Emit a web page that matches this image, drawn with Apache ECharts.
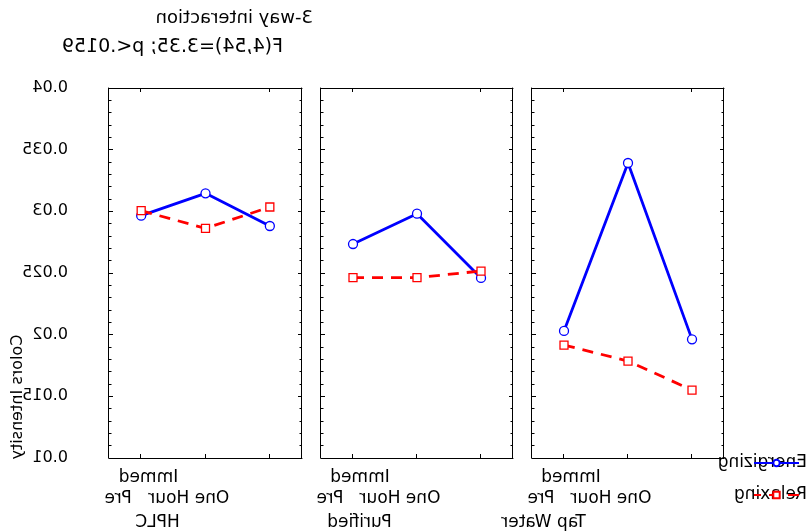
<!DOCTYPE html>
<html>
<head>
<meta charset="utf-8">
<script src="https://cdn.jsdelivr.net/npm/echarts@6/dist/echarts.min.js"></script>
<style>
html,body{margin:0;padding:0;background:#fff;}
#main{width:812px;height:532px;transform:scaleX(-1);transform-origin:center;}
</style>
</head>
<body>
<div id="main"></div>
<script>
// ---- data ----
const panels = ['HPLC', 'Purified', 'Tap Water'];
const timepoints = ['Pre', 'Immed', 'One Hour'];
const seriesNames = ['Energizing', 'Relaxing'];
const energizingHPLC = [0.02965, 0.03146, 0.02881];
const relaxingHPLC = [0.03005, 0.02862, 0.03035];
const energizingPurified = [0.02735, 0.02981, 0.02460];
const relaxingPurified = [0.02462, 0.02462, 0.02516];
const energizingTap = [0.02030, 0.03392, 0.01962];
const relaxingTap = [0.01916, 0.01786, 0.01551];
const titleText = '3-way interaction';
const subtitleText = 'F(4,54)=3.35; p<.0159';
const yAxisName = 'Colors Intensity';

// ---- layout / style ----
const FONT = 'DejaVu Sans';
const energizingByPanel = [energizingHPLC, energizingPurified, energizingTap];
const relaxingByPanel = [relaxingHPLC, relaxingPurified, relaxingTap];
// the whole canvas is mirrored horizontally (CSS) to match the reference
const gridLefts = [510, 299, 88];
const gridWidths = [193, 192, 192];
const groupPad = [96, 115, 169];

const chart = echarts.init(document.getElementById('main'), null, {renderer: 'canvas'});

const grids = [], xAxes = [], yAxes = [], series = [];
const labelKey = {'Pre': 'p', 'Immed': 'i', 'One Hour': 'o'};
const txt = {fontFamily: FONT, fontSize: 17, color: '#000'};

panels.forEach((p, i) => {
  grids.push({left: gridLefts[i], width: gridWidths[i], top: 88, height: 370, containLabel: false, outerBoundsMode: 'none'});
  const tick = {show: true, inside: true, alignWithLabel: true, length: 4, lineStyle: {color: '#000', width: 1}};
  const line = {show: true, onZero: false, lineStyle: {color: '#000', width: 1}};
  xAxes.push({
    type: 'category', gridIndex: i, position: 'bottom', data: timepoints, inverse: true, boundaryGap: true,
    axisLine: line, axisTick: tick, splitLine: {show: false},
    axisLabel: {
      interval: 0, margin: 11, ...txt,
      formatter: v => '{' + labelKey[v] + '|' + v + '}',
      rich: {
        p: {...txt, padding: [21, 0, 0, 46]},
        i: {...txt, padding: [0, 0, 0, 114]},
        o: {...txt, padding: [21, 0, 0, 162]}
      }
    },
    name: p, nameLocation: 'middle', nameGap: 56,
    nameTextStyle: {...txt, padding: [0, 0, 0, groupPad[i]]}
  });
  xAxes.push({
    type: 'category', gridIndex: i, position: 'top', data: timepoints, inverse: true, boundaryGap: true,
    axisLine: line, axisTick: tick, axisLabel: {show: false}, splitLine: {show: false}
  });
  ['left', 'right'].forEach(pos => {
    const showLabel = (i === 0 && pos === 'right');
    yAxes.push({
      type: 'value', gridIndex: i, position: pos, min: 0.01, max: 0.04, interval: 0.005,
      axisLine: {show: true, lineStyle: {color: '#000', width: 1}},
      axisTick: {show: true, inside: true, length: 4, lineStyle: {color: '#000', width: 1}},
      minorTick: {show: true, splitNumber: 5, length: 2.5, lineStyle: {color: '#000', width: 1}},
      splitLine: {show: false}, minorSplitLine: {show: false},
      axisLabel: {show: showLabel, margin: 41, fontFamily: FONT, fontSize: 16, color: '#000'}
    });
  });
  series.push({
    name: seriesNames[0], type: 'line', xAxisIndex: 2 * i, yAxisIndex: 2 * i,
    data: energizingByPanel[i], symbol: 'circle', symbolSize: 9,
    lineStyle: {color: '#0000ff', width: 2.8, type: 'solid'},
    itemStyle: {color: '#ffffff', borderColor: '#0000ff', borderWidth: 1.3},
    z: 2
  });
  series.push({
    name: seriesNames[1], type: 'line', xAxisIndex: 2 * i, yAxisIndex: 2 * i,
    data: relaxingByPanel[i], symbol: 'rect', symbolSize: 8,
    lineStyle: {color: '#ff0000', width: 2.8, type: [11, 8]},
    itemStyle: {color: '#ffffff', borderColor: '#ff0000', borderWidth: 1.3},
    z: 3
  });
});

const option = {
  backgroundColor: '#ffffff',
  animation: false,
  title: [
    {text: titleText, left: 499, top: 9, padding: 0, textStyle: {fontFamily: FONT, fontSize: 18, fontWeight: 'normal', color: '#000'}},
    {text: subtitleText, left: 529, top: 38, padding: 0, textStyle: {fontFamily: FONT, fontSize: 19, fontWeight: 'normal', color: '#000'}}
  ],
  legend: [
    {
      data: seriesNames, orient: 'vertical', left: 0, top: 454, padding: 0, itemGap: 14,
      icon: 'none', itemWidth: 0, itemHeight: 8, selectedMode: false,
      textStyle: {fontFamily: FONT, fontSize: 17, color: '#000', lineHeight: 18}
    },
    {
      data: seriesNames, orient: 'vertical', left: 12, top: 454, padding: 0, itemGap: 14,
      itemWidth: 45, itemHeight: 8, selectedMode: false, z: 10,
      formatter: () => ' ',
      textStyle: {fontFamily: FONT, fontSize: 17, color: '#000', lineHeight: 18}
    }
  ],
  graphic: [{
    type: 'text', x: 794, y: 397, rotation: -Math.PI / 2,
    style: {text: yAxisName, font: '16px "DejaVu Sans"', fill: '#000', align: 'center', verticalAlign: 'middle'}
  }],
  grid: grids,
  xAxis: xAxes,
  yAxis: yAxes,
  series: series
};
chart.setOption(option);
</script>
</body>
</html>
